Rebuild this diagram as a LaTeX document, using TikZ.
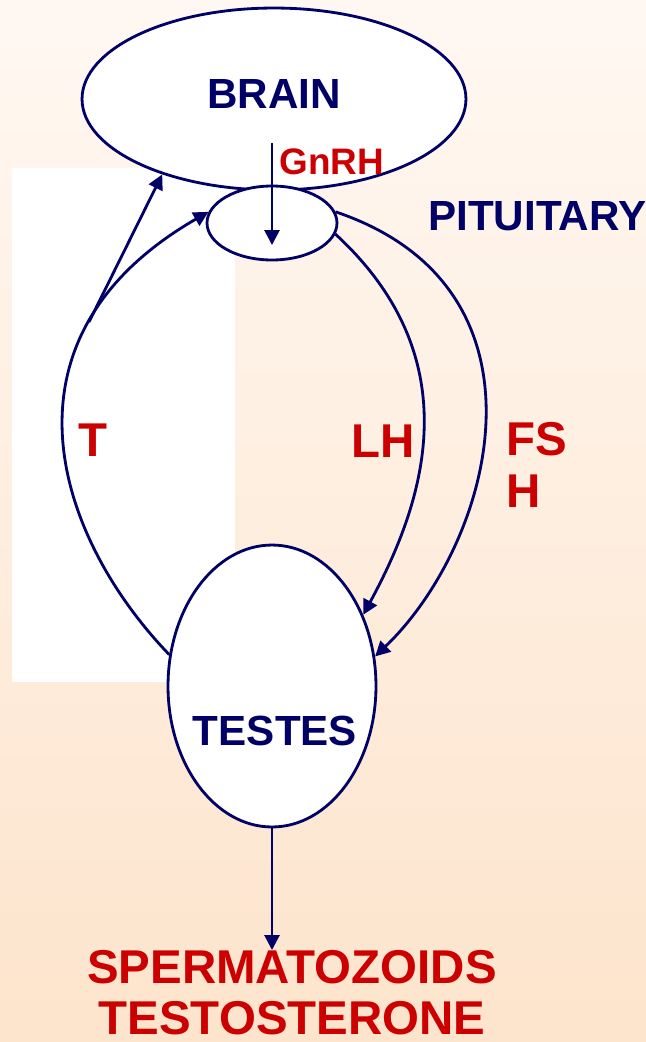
\documentclass[tikz,border=0pt]{standalone}
\usepackage{fontspec}
\setmainfont{Liberation Sans}
\usetikzlibrary{shapes,arrows.meta,calc}
\definecolor{navy}{RGB}{0,0,102}
\definecolor{hred}{RGB}{204,0,0}
\definecolor{bgtop}{RGB}{255,248,242}
\definecolor{bgbot}{RGB}{253,228,204}

\begin{document}
\begin{tikzpicture}[x=0.02cm, y=-0.02cm,
    blob/.style={ellipse, draw=navy, fill=white, line width=1.6pt, inner sep=0pt},
    hline/.style={navy, line width=1.6pt, -{Triangle[length=8.5pt,width=8.5pt]}},
    lbl/.style={navy, font=\fontsize{24}{28}\selectfont\bfseries, inner sep=0pt},
    hlbl/.style={hred, font=\fontsize{27}{29.6}\selectfont\bfseries, inner sep=0pt}]

    \useasboundingbox (0,0) rectangle (646,1042);
    \shade[top color=bgtop, bottom color=bgbot] (0,0) rectangle (646,1042);
    \fill[white] (12,168) rectangle (235,682);

%glands
    \node[blob, minimum width=7.68cm, minimum height=3.64cm] (brain) at (274,99) {};
    \node[blob, minimum width=2.6cm, minimum height=1.48cm] (pit) at (272,223) {};
    \node[blob, minimum width=4.16cm, minimum height=5.64cm] (testes) at (272,686) {};

    \node[lbl, anchor=base] (brainlbl) at (274,108) {BRAIN};
    \node[lbl, anchor=base west] (pitlbl) at (428,230) {PITUITARY};
    \node[lbl, anchor=base] (testeslbl) at (275,745) {TESTES};

    \node[hlbl, anchor=base west, font=\fontsize{21}{24}\selectfont\bfseries] (gnrh) at (279,174) {GnRH};
    \node[hlbl, anchor=base] (tlbl) at (93,456) {T};
    \node[hlbl, anchor=base] (lhlbl) at (383,457) {LH};
    \node[hlbl, anchor=north west, align=left] (fshlbl) at (506,422) {FS\\H};
    \node[hlbl, anchor=north, align=center, font=\fontsize{27}{29}\selectfont\bfseries] (out) at (292,950) {SPERMATOZOIDS\\TESTOSTERONE};

%T
    \draw[hline] (testes.163) .. controls (57,538) and (-12,339) .. (pit.170);
    \coordinate (branch) at (89,322);
    \draw[hline] (branch) -- (brain.214);
%LH
    \draw[hline] (pit.-10) .. controls (472,360) and (424,503) .. (testes.38);
%FSH
    \draw[hline] (pit.10) .. controls (562,288) and (494,542) .. (testes.16);
%GnRH
    \draw[hline] ($(pit.center)+(0,-80)$) -- ($(pit.center)+(0,22)$);
%output
    \draw[hline] (testes.south) -- (testes.south |- out.north);

  \end{tikzpicture}
\end{document}
